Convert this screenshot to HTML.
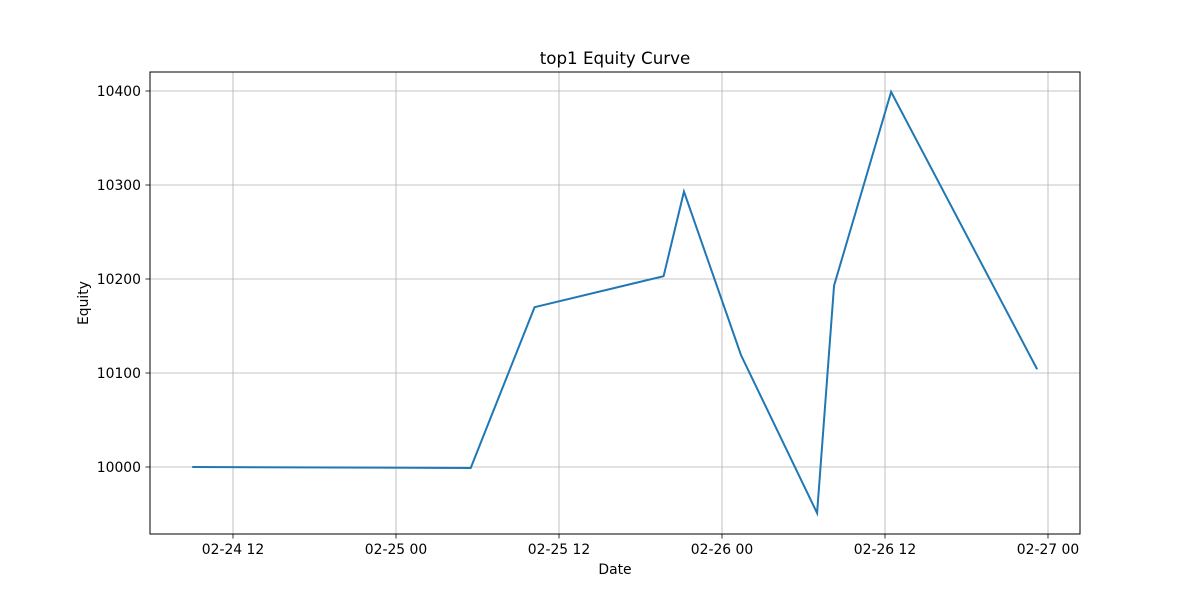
<!DOCTYPE html>
<html><head><meta charset="utf-8">
<style>
html,body{margin:0;padding:0;background:#fff;}
svg{display:block;font-family:"DejaVu Sans","Liberation Sans",sans-serif;}
</style></head>
<body>
<svg id="chart" width="1200" height="600">
<rect width="1200" height="600" fill="#fff"/>
<text x="615" y="64" font-size="16.7" text-anchor="middle">top1 Equity Curve</text>
<g id="grid"></g>
<g id="ticks"></g>
<polyline id="line" fill="none" stroke="#1f77b4" stroke-width="2"/>
<rect x="150" y="72" width="930" height="462" fill="none" stroke="#000" stroke-width="1"/>
<text x="615" y="574" font-size="13.9" text-anchor="middle">Date</text>
<text x="88" y="303" font-size="13.9" text-anchor="middle" transform="rotate(-90 88 303)">Equity</text>
</svg>
<script>
// hours since 02-24 00:00
const times = [9, 29.5, 34.2, 43.7, 45.2, 49.4, 55, 56.25, 60.45, 71.2];
const equity = [10000, 9999, 10170, 10203, 10293, 10119, 9951, 10193, 10399, 10104];
const xTickHours = [12, 24, 36, 48, 60, 72];
const xTickLabels = ["02-24 12", "02-25 00", "02-25 12", "02-26 00", "02-26 12", "02-27 00"];
const yTicks = [10000, 10100, 10200, 10300, 10400];

const NS = "http://www.w3.org/2000/svg";
function xs(h){ return 233 + (h - 12) * (163/12); }
function ys(v){ return 467 - (v - 10000) * 0.94; }
const grid = document.getElementById('grid'), ticks = document.getElementById('ticks');
function mk(tag, attrs, parent){ const e = document.createElementNS(NS, tag); for (const k in attrs) e.setAttribute(k, attrs[k]); parent.appendChild(e); return e; }

xTickHours.forEach((h,i)=>{
  const x = xs(h);
  const g = mk('line',{x1:x,x2:x,y1:72,y2:534,stroke:'#b0b0b0','stroke-width':0.8},grid);
  
  
  const t = mk('line',{x1:x,x2:x,y1:534,y2:538.5,stroke:'#000','stroke-width':0.8},ticks);
  
  
  const l = mk('text',{x:x,y:554,'font-size':13.9,'text-anchor':'middle'},ticks);
  l.textContent = xTickLabels[i];
  
  
});
yTicks.forEach(v=>{
  const y = ys(v);
  const g = mk('line',{x1:150,x2:1080,y1:y,y2:y,stroke:'#b0b0b0','stroke-width':0.8},grid);
  
  
  const t = mk('line',{x1:145.5,x2:150,y1:y,y2:y,stroke:'#000','stroke-width':0.8},ticks);
  
  
  const l = mk('text',{x:141,y:y+5,'font-size':13.9,'text-anchor':'end'},ticks);
  l.textContent = v;
  
  
});
document.getElementById('line').setAttribute('points', times.map((t,i)=>xs(t)+','+ys(equity[i])).join(' '));
</script>
</body></html>
